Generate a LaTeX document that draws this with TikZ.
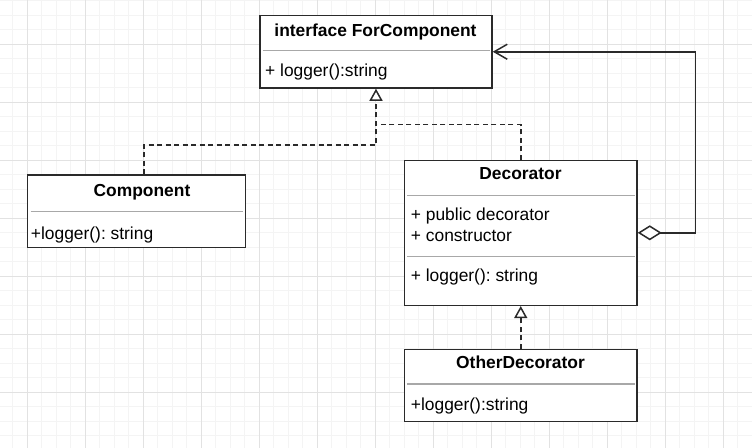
\documentclass[tikz,border=0pt]{standalone}
\usepackage{fontspec}
\setmainfont{Liberation Sans}
\frenchspacing
\usetikzlibrary{arrows.meta}
\definecolor{gridfine}{HTML}{F4F4F4}
\definecolor{gridbold}{HTML}{E2E2E2}
\definecolor{boxline}{HTML}{2A2A2A}
\definecolor{sepline}{HTML}{A8A8A8}
\tikzset{
    classbox/.style={draw=boxline, line width=1.5pt, fill=white, inner sep=0pt},
    divider/.style={draw=sepline, line width=1.2pt},
    title/.style={font=\fontsize{17.4}{21}\selectfont\bfseries, inner sep=0pt, anchor=base},
    member/.style={font=\fontsize{17.4}{21}\selectfont, inner sep=0pt, anchor=base west},
    dashes/.style={draw=boxline, line width=1.5pt, dash pattern=on 5pt off 3.5pt},
    realize/.style={dashes, -{Triangle[fill=white, length=12pt, width=13pt]}},
    aggregate/.style={draw=boxline, line width=1.5pt,
        {Diamond[fill=white, length=24pt, width=15pt]}-{Straight Barb[length=13pt, width=15pt]}},
}
\begin{document}
\begin{tikzpicture}[x=1pt, y=-1pt]
    \useasboundingbox (0, 0) rectangle (752, 447);
    \begin{scope}
        \clip (0, 0) rectangle (752, 447);
        \draw[gridfine, line width=0.8pt, step=14.5pt, shift={(27, 44)}] (-58, -58) grid (760, 440);
        \draw[gridbold, line width=0.8pt, step=58pt, shift={(27, 44)}] (-58, -58) grid (760, 440);
    \end{scope}
    % interface
    \node[classbox, minimum width=232pt, minimum height=72.5pt] (iface) at (376, 51.75) {};
    \draw[divider] (262.5, 50.7) -- (489.5, 50.7);
    \node[title] (ifaceName) at (375.5, 36.7) {interface ForComponent};
    \node[member] (ifaceLogger) at (265, 76) {+ logger():string};
    % component
    \node[classbox, minimum width=218.4pt, minimum height=72.7pt] (comp) at (136.5, 211.35) {};
    \draw[divider] (30.5, 211.7) -- (243, 211.7);
    \node[title] (compName) at (142, 196.7) {Component};
    \node[member] (compLogger) at (30.7, 239) {+logger(): string};
    % decorator
    \node[classbox, minimum width=232.5pt, minimum height=145pt] (deco) at (520.75, 232.8) {};
    \draw[divider] (407, 195.7) -- (634.5, 195.7);
    \draw[divider] (407, 256.7) -- (634.5, 256.7);
    \node[title] (decoName) at (520.5, 179.4) {Decorator};
    \node[member] (decoField) at (410.7, 220.7) {+ public decorator};
    \node[member] (decoCtor) at (410.7, 241.7) {+ constructor};
    \node[member] (decoLogger) at (410.7, 281.7) {+ logger(): string};
    % other decorator
    \node[classbox, minimum width=232.5pt, minimum height=72.2pt] (other) at (520.75, 385.4) {};
    \draw[divider] (407, 384) -- (634.5, 384);
    \node[title] (otherName) at (520.5, 368.3) {OtherDecorator};
    \node[member] (otherLogger) at (410.7, 410) {+logger():string};
    % relations
    \coordinate (joint) at (376, 124.5);
    \draw[realize] ([xshift=7.5pt]comp.north) -- ++(0, -29.5) -| (iface.south);
    \draw[dashes] (deco.north) |- (joint);
    \draw[realize] (other.north) -- (deco.south);
    \draw[aggregate] (deco.east) -- ++(57.7, 0) |- (iface.east);
\end{tikzpicture}
\end{document}
